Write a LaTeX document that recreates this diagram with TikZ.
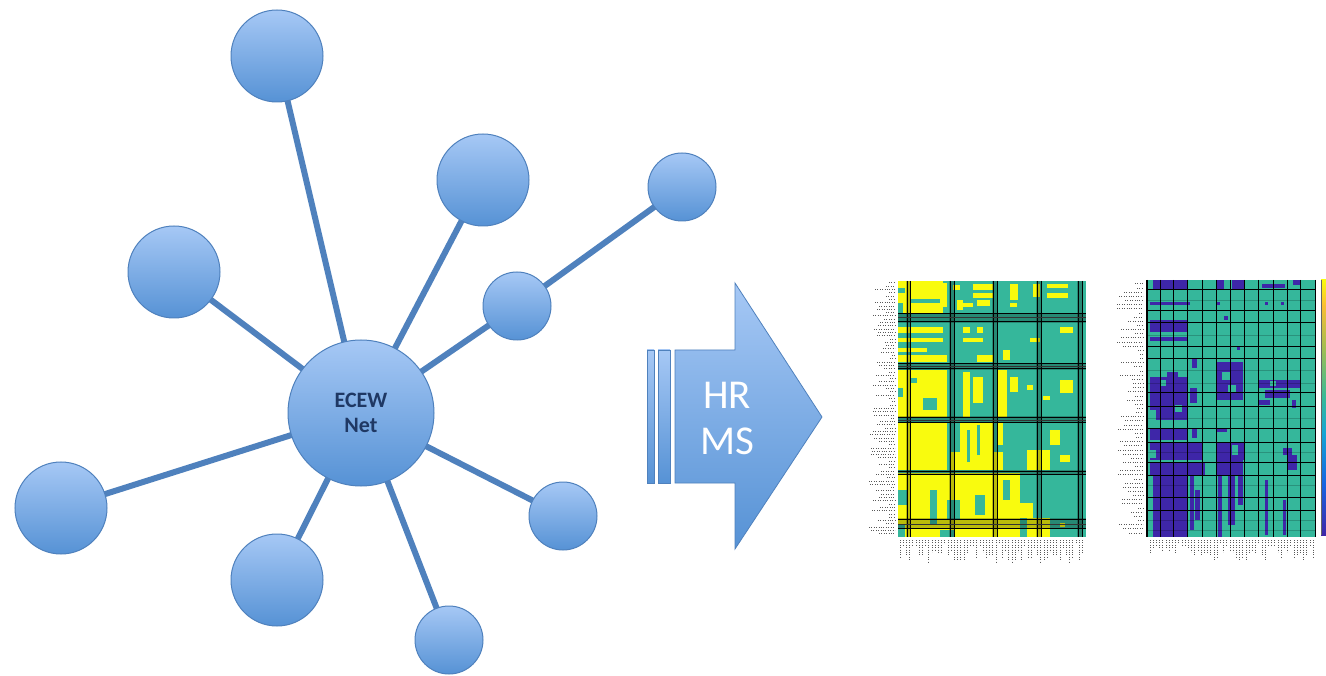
\documentclass[tikz,border=0pt]{standalone}
\usepackage{fontspec}
\setmainfont{Carlito}
\pgfdeclarelayer{bg}
\pgfdeclarelayer{edges}
\pgfsetlayers{bg,edges,main}
\definecolor{edgeblue}{RGB}{79,129,189}
\definecolor{lightblue}{RGB}{166,200,245}
\definecolor{darkblue}{RGB}{86,146,213}
\definecolor{navy}{RGB}{31,56,100}
\definecolor{pyel}{RGB}{249,251,14}
\definecolor{pteal}{RGB}{53,183,155}
\definecolor{pdark}{RGB}{62,38,168}
\definecolor{pc1}{RGB}{22,100,225}
\definecolor{pc2}{RGB}{20,165,212}
\definecolor{pc3}{RGB}{55,186,152}
\definecolor{pc4}{RGB}{165,190,80}
\definecolor{pc5}{RGB}{250,190,50}
\pgfdeclareverticalshading{parula}{100bp}{color(0bp)=(pdark); color(25bp)=(pdark); color(35bp)=(pc1); color(45bp)=(pc2); color(52bp)=(pc3); color(62bp)=(pc4); color(70bp)=(pc5); color(75bp)=(pyel); color(100bp)=(pyel)}
\begin{document}
\begin{tikzpicture}[x=1pt,y=-1pt,
  sat/.style={circle,draw=edgeblue,line width=1pt,top color=lightblue,bottom color=darkblue,inner sep=0pt},
  big/.style={sat,minimum size=92pt},
  small/.style={sat,minimum size=68pt},
  link/.style={draw=edgeblue,line width=6pt},
  shapefill/.style={top color=lightblue,bottom color=darkblue,draw=edgeblue,line width=0.8pt},
  gridline/.style={black,line width=1pt},
  labelink/.style={black!65,line width=1pt,dash pattern=on 1pt off 1.4pt}]
\begin{pgfonlayer}{bg}
\fill[white] (0,0) rectangle (1326,676);
\end{pgfonlayer}
\useasboundingbox (0,0) rectangle (1326,676);

% network
\node[sat,minimum size=146pt,font=\bfseries\fontsize{22}{25}\selectfont,text=navy,align=center] (c) at (361,413) {ECEW\\Net};
\node[big] (s1) at (277,56) {};
\node[big] (s2) at (483,180) {};
\node[small] (s3) at (682,187) {};
\node[small] (s4) at (517,306) {};
\node[big] (s5) at (174,272) {};
\node[big] (s6) at (61,508) {};
\node[big] (s7) at (277,580) {};
\node[small] (s8) at (449,640) {};
\node[small] (s9) at (563,516) {};
\begin{pgfonlayer}{edges}
\foreach \s in {s1,s2,s4,s5,s6,s7,s8,s9} \draw[link] (c.center) -- (\s.center);
\draw[link] (s4.center) -- (s3.center);
\end{pgfonlayer}

% block arrow
\shade[shapefill] (647,350) rectangle (654,483);
\shade[shapefill] (658,350) rectangle (670,483);
\shade[shapefill] (675,350) -- (735,350) -- (735,283) -- (822,417) -- (735,549) -- (735,483) -- (675,483) -- cycle;
\node[text=white,font=\fontsize{41}{46}\selectfont,align=center] (hrms) at (727,418) {HR\\MS};

% left heatmap
\fill[pteal] (898,281) rectangle (1086,537);
\foreach \a/\b/\c/\d in {
 898/281/943/313, 943/283/947/307, 953/285/960/290, 957/300/963/310,
 973/284/993/290, 973/293/993/298, 977/300/990/306, 1010/284/1018/300,
 1033/284/1040/297, 1047/284/1068/288, 1047/293/1068/298, 963/303/973/307, 1010/303/1017/307,
 898/327/943/333, 898/338/943/342, 898/348/927/352, 898/355/947/362, 963/327/970/333,
 977/327/983/333, 963/338/983/342, 1030/338/1040/342, 1060/327/1073/333, 977/355/993/362, 1003/350/1010/360,
 898/370/947/417, 963/372/970/417, 973/377/983/403, 997/370/1007/417, 1010/377/1018/392,
 1027/385/1033/390, 1060/380/1073/393, 1043/396/1050/400,
 898/423/947/470, 960/423/993/470, 997/423/1003/445, 1050/430/1060/445, 950/452/1003/470,
 1027/450/1050/470, 1060/455/1070/462,
 898/473/1020/537, 1020/503/1033/518, 1027/518/1050/537, 1060/523/1065/527}
 \fill[pyel] (\a,\b) rectangle (\c,\d);
\foreach \a/\b/\c/\d in {
 898/288/905/293, 910/299/940/303, 898/303/903/313,
 898/388/903/397, 923/398/937/410, 910/378/917/383,
 967/430/970/462, 977/425/980/455, 1003/452/1010/470,
 898/490/908/505, 930/490/937/525, 947/500/960/520, 975/495/985/515, 1003/480/1010/500,
 898/525/905/537, 940/530/955/537}
 \fill[pteal] (\a,\b) rectangle (\c,\d);
% left grid bands
\foreach \x/\y in {906/911, 949/955, 992/998, 1036/1042, 1077/1083}
 {\fill[black,opacity=0.25] (\x,281) rectangle (\y,537);
  \draw[gridline] (\x+1,281) -- (\x+1,537); \draw[gridline] (\y-1,281) -- (\y-1,537);}
\foreach \x/\y in {313/323, 363/370, 416/423, 470/475, 518/529}
 {\fill[black,opacity=0.25] (898,\x) rectangle (1086,\y);
  \draw[gridline] (898,\x+1) -- (1086,\x+1); \draw[gridline] (898,\y-1) -- (1086,\y-1);}
\foreach \y in {318,367,420,524} \draw[gridline,black!80] (898,\y) -- (1086,\y);

% right heatmap
\fill[pteal] (1148,280) rectangle (1315,537);
\foreach \a/\b/\c/\d in {
 1153/280/1188/290, 1216/280/1224/290, 1232/280/1244/290, 1262/284/1285/288, 1293/280/1300/285,
 1150/302/1190/305, 1217/302/1220/305, 1265/302/1268/305, 1281/302/1284/305,
 1150/320/1188/332, 1150/337/1188/341, 1224/316/1228/320, 1237/346/1240/350,
 1192/358/1197/368, 1216/362/1243/400,
 1150/377/1188/420, 1167/372/1178/377, 1190/388/1197/403,
 1258/380/1300/388, 1265/390/1290/398, 1258/400/1270/405, 1292/400/1296/408,
 1150/428/1188/440, 1192/428/1197/438, 1216/428/1227/432,
 1150/443/1203/460, 1216/443/1244/460, 1283/448/1292/455, 1287/455/1297/470,
 1150/462/1205/475, 1216/460/1243/475,
 1153/475/1187/537, 1190/475/1194/530, 1195/490/1200/520, 1218/475/1222/537,
 1228/475/1235/525, 1238/475/1243/505, 1265/480/1268/535, 1283/500/1286/535}
 \fill[pdark] (\a,\b) rectangle (\c,\d);
\foreach \a/\b/\c/\d in {
 1150/280/1153/290, 1222/372/1230/380, 1228/385/1236/392, 1160/380/1166/386,
 1175/405/1182/412, 1150/410/1156/420, 1232/445/1238/455, 1150/450/1156/458,
 1200/380/1206/386, 1262/388/1265/396, 1270/381/1276/386}
 \fill[pteal] (\a,\b) rectangle (\c,\d);
\foreach \y in {300,335,370,383,418,452,485,520,530}
 \draw[black,opacity=0.2,line width=0.8pt] (1148,\y) -- (1315,\y);
\foreach \x in {1160,1173,1187,1202,1216,1230,1244,1258,1273,1287,1300,1315}
 \draw[gridline] (\x,280) -- (\x,537);
\foreach \y in {290,311,323,347,359,393,406,428,442,462,475,497,510}
 \draw[gridline] (1148,\y) -- (1315,\y);
\draw[black,line width=1.5pt] (1147,280) -- (1147,537);

% colour bar
\shade[shading=parula] (1321,280) rectangle (1327,535);
\draw[black!60,line width=0.5pt] (1321,280) -- (1321,535);

% tick labels (illegible)
\pgfmathsetseed{7}
\foreach \i in {0,...,76} {
 \pgfmathsetmacro{\yy}{283+\i*3.3}
 \pgfmathrandominteger{\ww}{3}{26}
 \draw[labelink] (895-\ww,\yy) -- (895,\yy);}
\foreach \i in {0,...,57} {
 \pgfmathsetmacro{\xx}{900+\i*3.2}
 \pgfmathrandominteger{\hh}{4}{22}
 \draw[labelink] (\xx,540) -- (\xx,540+\hh);}
\foreach \i in {0,...,60} {
 \pgfmathsetmacro{\yy}{284+\i*4.15}
 \pgfmathrandominteger{\ww}{3}{26}
 \draw[labelink] (1143-\ww,\yy) -- (1143,\yy);}
\foreach \i in {0,...,51} {
 \pgfmathsetmacro{\xx}{1150+\i*3.2}
 \pgfmathrandominteger{\hh}{4}{20}
 \draw[labelink] (\xx,540) -- (\xx,540+\hh);}
\end{tikzpicture}
\end{document}
